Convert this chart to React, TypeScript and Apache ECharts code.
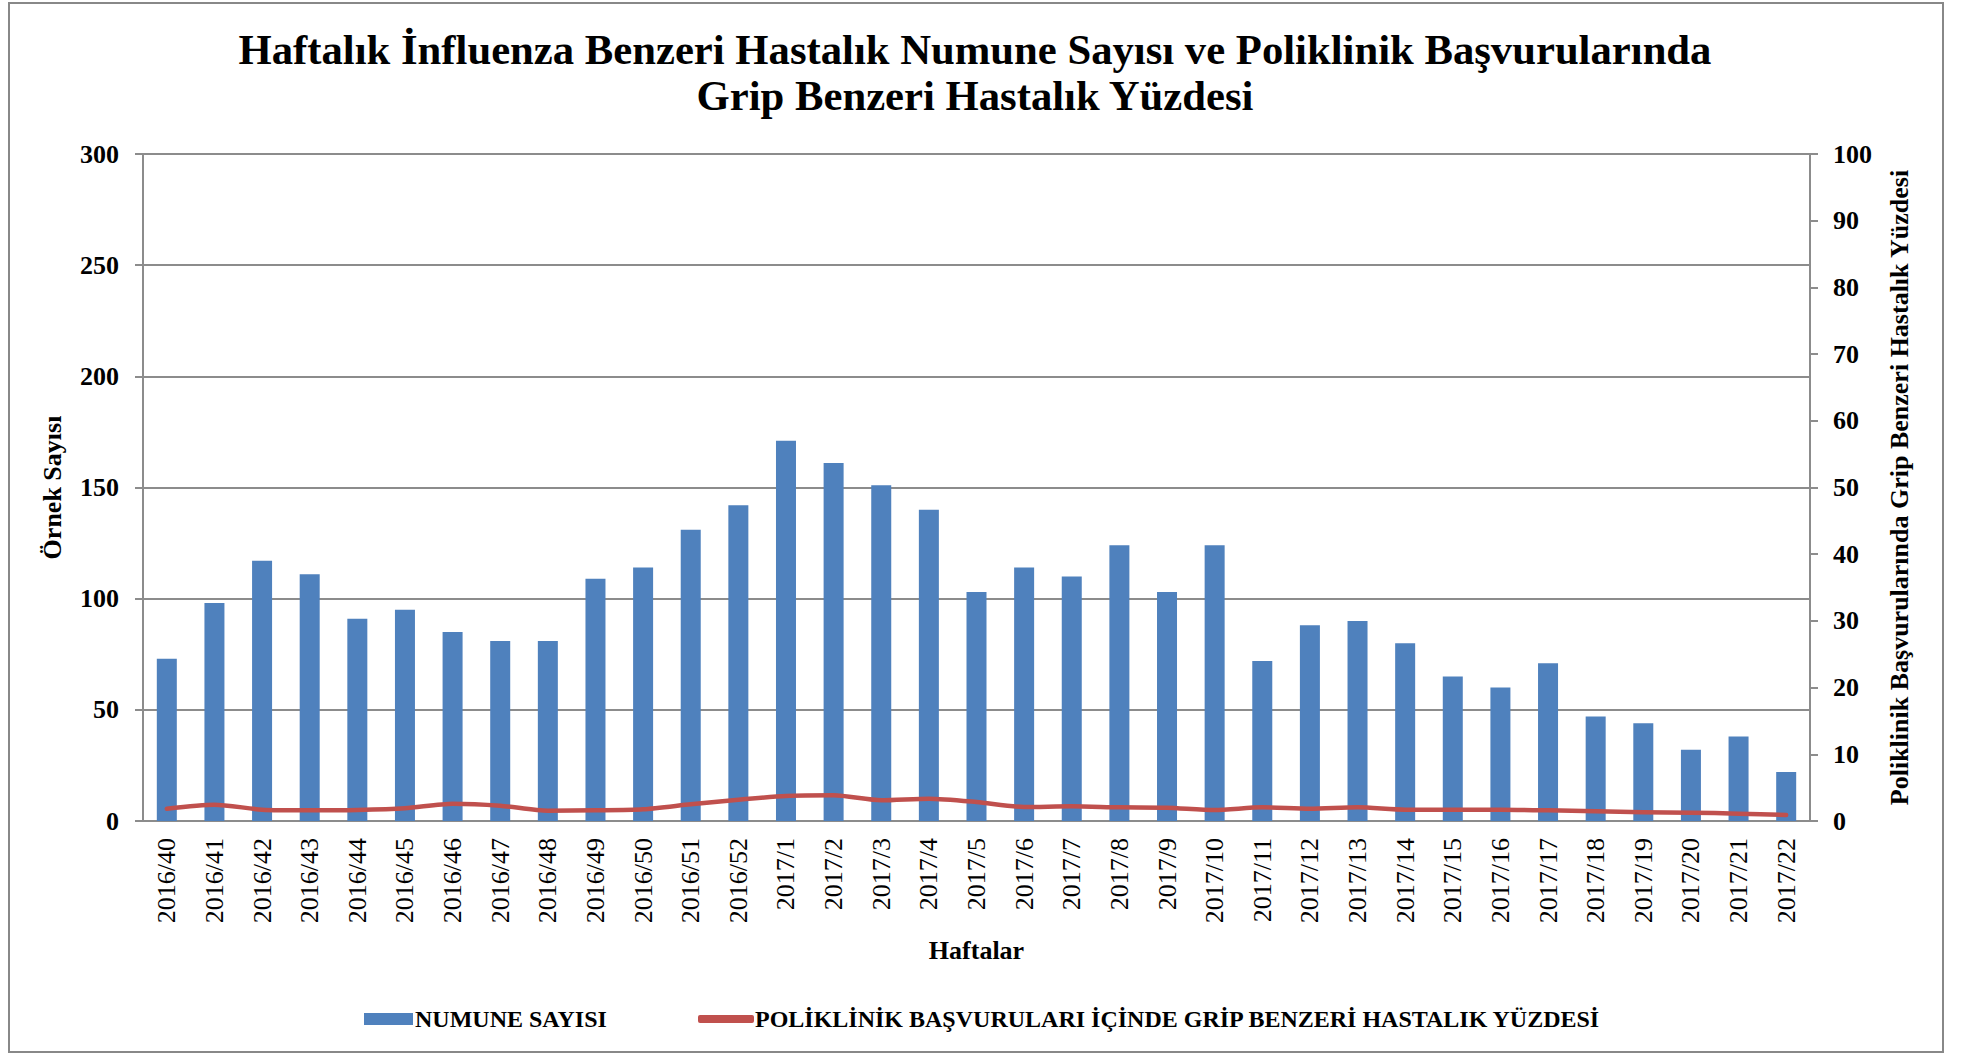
import React, { useEffect, useRef } from "react";
import * as echarts from "echarts";

const weeks = [
  "2016/40", "2016/41", "2016/42", "2016/43", "2016/44", "2016/45", "2016/46", "2016/47", "2016/48",
  "2016/49", "2016/50", "2016/51", "2016/52", "2017/1", "2017/2", "2017/3", "2017/4", "2017/5",
  "2017/6", "2017/7", "2017/8", "2017/9", "2017/10", "2017/11", "2017/12", "2017/13", "2017/14",
  "2017/15", "2017/16", "2017/17", "2017/18", "2017/19", "2017/20", "2017/21", "2017/22",
];

const sampleCounts = [
  73, 98, 117, 111, 91, 95, 85, 81, 81,
  109, 114, 131, 142, 171, 161, 151, 140, 103,
  114, 110, 124, 103, 124, 72, 88, 90, 80,
  65, 60, 71, 47, 44, 32, 38, 22,
];

const iliPercent = [
  1.85, 2.45, 1.7, 1.6, 1.65, 1.9, 2.6, 2.3, 1.55,
  1.6, 1.75, 2.5, 3.2, 3.75, 3.85, 3.1, 3.35, 2.85,
  2.1, 2.2, 2.05, 2.0, 1.65, 2.05, 1.85, 2.05, 1.7,
  1.7, 1.7, 1.6, 1.45, 1.3, 1.25, 1.1, 0.9,
];

const leftTicks = { min: 0, max: 300, interval: 50 };
const rightTicks = { min: 0, max: 100, interval: 10 };

const titleText = "Haftalık İnfluenza Benzeri Hastalık Numune Sayısı ve Poliklinik Başvurularında\nGrip Benzeri Hastalık Yüzdesi";
const barName = "NUMUNE SAYISI";
const lineName = "POLİKLİNİK BAŞVURULARI İÇİNDE GRİP BENZERİ HASTALIK YÜZDESİ";
const xName = "Haftalar";
const leftName = "Örnek Sayısı";
const rightName = "Poliklinik Başvurularında Grip Benzeri Hastalık Yüzdesi";

const FONT = "'Times New Roman', 'Liberation Serif', serif";
const GRAY = "#8c8c8c";

export default function App() {
  const ref = useRef<HTMLDivElement>(null);

  useEffect(() => {
    if (!ref.current) return;
    const chart = echarts.init(ref.current, null, { renderer: "svg" });
    chart.setOption({
      animation: false,
      backgroundColor: "#ffffff",
      textStyle: { fontFamily: FONT },
      title: {
        text: titleText,
        left: 975,
        top: 26,
        padding: 0,
        textAlign: "center",
        textStyle: {
          fontFamily: FONT,
          fontWeight: "bold",
          fontSize: 42.7,
          lineHeight: 46,
          color: "#000",
        },
      },
      graphic: [
        {
          type: "rect",
          shape: { x: 9, y: 3, width: 1934, height: 1049 },
          style: { fill: "none", stroke: "#888888", lineWidth: 2 },
          silent: true,
        },
      ],
      legend: [
        {
          data: [barName],
          left: 359,
          top: 1002,
          itemWidth: 49,
          itemHeight: 12,
          icon: "rect",
          textStyle: { fontFamily: FONT, fontWeight: "bold", fontSize: 24, color: "#000", padding: [2, 0, 0, -3] },
        },
        {
          data: [lineName],
          left: 693,
          top: 1002,
          itemWidth: 56,
          itemHeight: 8,
          icon: "roundRect",
          textStyle: { fontFamily: FONT, fontWeight: "bold", fontSize: 24, color: "#000", padding: [2, 0, 0, -4] },
        },
      ],
      grid: { left: 143, right: 163, top: 154, bottom: 233 },
      xAxis: {
        type: "category",
        data: weeks,
        name: xName,
        nameLocation: "middle",
        nameGap: 116,
        nameTextStyle: { fontFamily: FONT, fontWeight: "bold", fontSize: 26, color: "#000", verticalAlign: "top" },
        axisLine: { lineStyle: { color: GRAY, width: 2 } },
        axisTick: { show: false },
        axisLabel: { rotate: 90, margin: 17, fontFamily: FONT, fontSize: 26, color: "#000", interval: 0 },
      },
      yAxis: [
        {
          type: "value",
          ...leftTicks,
          name: leftName,
          nameLocation: "middle",
          nameRotate: 90,
          nameGap: 78,
          nameTextStyle: { fontFamily: FONT, fontWeight: "bold", fontSize: 26, color: "#000" },
          axisLine: { show: true, lineStyle: { color: GRAY, width: 2 } },
          axisTick: { show: true, length: 8, lineStyle: { color: GRAY, width: 2 } },
          axisLabel: { margin: 24, fontFamily: FONT, fontWeight: "bold", fontSize: 26, color: "#000" },
          splitLine: { show: true, lineStyle: { color: GRAY, width: 2 } },
        },
        {
          type: "value",
          ...rightTicks,
          name: rightName,
          nameLocation: "middle",
          nameRotate: 90,
          nameGap: 76,
          nameTextStyle: { fontFamily: FONT, fontWeight: "bold", fontSize: 26, color: "#000" },
          axisLine: { show: true, lineStyle: { color: GRAY, width: 2 } },
          axisTick: { show: true, length: 8, lineStyle: { color: GRAY, width: 2 } },
          axisLabel: { margin: 23, fontFamily: FONT, fontWeight: "bold", fontSize: 26, color: "#000" },
          splitLine: { show: false },
        },
      ],
      series: [
        {
          name: barName,
          type: "bar",
          data: sampleCounts,
          yAxisIndex: 0,
          barWidth: "42%",
          itemStyle: { color: "#4F81BD" },
        },
        {
          name: lineName,
          type: "line",
          data: iliPercent,
          yAxisIndex: 1,
          smooth: 0.25,
          showSymbol: false,
          symbol: "none",
          lineStyle: { color: "#C0504D", width: 4.5, cap: "round", join: "round" },
          itemStyle: { color: "#C0504D" },
        },
      ],
    });
    return () => chart.dispose();
  }, []);

  return (
    <div
      ref={ref}
      style={{ position: "fixed", left: 0, top: 0, width: 1973, height: 1054, background: "#fff" }}
    />
  );
}
